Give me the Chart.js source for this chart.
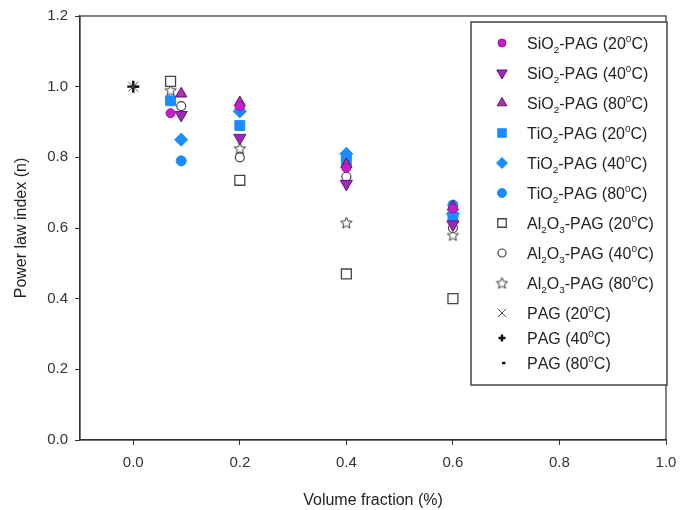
<!DOCTYPE html>
<html>
<head>
<meta charset="utf-8">
<script src="https://cdn.jsdelivr.net/npm/chart.js@4.4.0/dist/chart.umd.min.js"></script>
<style>
  html, body { margin: 0; padding: 0; background: #fff; }
  #caixa { width: 692px; height: 510px; }
</style>
</head>
<body>
<div id="caixa"><canvas id="grafico"></canvas></div>
<script>
// rótulos da legenda (_x = subscrito, ^x = sobrescrito)
const rotulos = [
  'SiO_2-PAG (20^0C)', 'SiO_2-PAG (40^0C)', 'SiO_2-PAG (80^0C)',
  'TiO_2-PAG (20^0C)', 'TiO_2-PAG (40^0C)', 'TiO_2-PAG (80^0C)',
  'Al_2O_3-PAG (20^0C)', 'Al_2O_3-PAG (40^0C)', 'Al_2O_3-PAG (80^0C)',
  'PAG (20^0C)', 'PAG (40^0C)', 'PAG (80^0C)'
];

// fração volumétrica (%) e índice n para cada série
const xSiO2_20 = [0.07, 0.2, 0.4, 0.6];
const nSiO2_20 = [0.925, 0.945, 0.77, 0.655];
const xSiO2_40 = [0.09, 0.2, 0.4, 0.6];
const nSiO2_40 = [0.92, 0.855, 0.725, 0.61];
const xSiO2_80 = [0.09, 0.2, 0.4, 0.6];
const nSiO2_80 = [0.98, 0.955, 0.78, 0.66];
const xTiO2_20 = [0.07, 0.2, 0.4, 0.6];
const nTiO2_20 = [0.96, 0.89, 0.79, 0.63];
const xTiO2_40 = [0.09, 0.2, 0.4, 0.6];
const nTiO2_40 = [0.85, 0.93, 0.81, 0.64];
const xTiO2_80 = [0.09, 0.2, 0.4, 0.6];
const nTiO2_80 = [0.79, 0.935, 0.80, 0.665];
const xAl2O3_20 = [0.07, 0.2, 0.4, 0.6];
const nAl2O3_20 = [1.015, 0.735, 0.47, 0.40];
const xAl2O3_40 = [0.09, 0.2, 0.4, 0.6];
const nAl2O3_40 = [0.945, 0.80, 0.745, 0.60];
const xAl2O3_80 = [0.07, 0.2, 0.4, 0.6];
const nAl2O3_80 = [0.99, 0.825, 0.615, 0.58];
const xPAG = [0];
const nPAG20 = [1.0];
const nPAG40 = [1.0];
const nPAG80 = [1.0];

const ticksX = [0, 0.2, 0.4, 0.6, 0.8, 1.0];

const FONTE = '"Liberation Sans", Arial, sans-serif';

function pontos(xs, ns) {
  return xs.map((x, i) => ({ x, y: ns[i] }));
}

// estrela de 5 pontas vazada (Chart.js não tem)
function criarEstrela(r, cor) {
  const c = document.createElement('canvas');
  const s = Math.ceil(r * 2 + 3);
  c.width = s;
  c.height = s;
  const g = c.getContext('2d');
  g.beginPath();
  for (let i = 0; i < 10; i++) {
    const ang = -Math.PI / 2 + i * Math.PI / 5;
    const rr = i % 2 === 0 ? r : r * 0.45;
    g.lineTo(s / 2 + rr * Math.cos(ang), s / 2 + rr * Math.sin(ang) + 0.5);
  }
  g.closePath();
  g.fillStyle = '#fff';
  g.fill();
  g.strokeStyle = cor;
  g.lineWidth = 1;
  g.stroke();
  return c;
}

const estrela = criarEstrela(6, '#333');

// leg = raio do marcador na legenda
const series = [
  { data: pontos(xSiO2_20, nSiO2_20), pointStyle: 'circle', radius: 4.5, leg: 4, bg: '#c81ec8', bd: '#a010a0', bw: 1 },
  { data: pontos(xSiO2_40, nSiO2_40), pointStyle: 'triangle', rotation: 180, radius: 7, leg: 6, bg: '#9a2cb8', bd: '#6a1080', bw: 1 },
  { data: pontos(xSiO2_80, nSiO2_80), pointStyle: 'triangle', radius: 6.5, leg: 5.5, bg: '#b432b4', bd: '#5a105a', bw: 1 },
  { data: pontos(xTiO2_20, nTiO2_20), pointStyle: 'rect', radius: 7, leg: 6, bg: '#1a8cff', bd: '#1a8cff', bw: 1 },
  { data: pontos(xTiO2_40, nTiO2_40), pointStyle: 'rectRot', radius: 6.5, leg: 5.5, bg: '#1a8cff', bd: '#1a8cff', bw: 1 },
  { data: pontos(xTiO2_80, nTiO2_80), pointStyle: 'circle', radius: 5, leg: 4.5, bg: '#1a8cff', bd: '#1a8cff', bw: 1 },
  { data: pontos(xAl2O3_20, nAl2O3_20), pointStyle: 'rect', radius: 7, leg: 6, bg: '#fff', bd: '#444', bw: 1.3 },
  { data: pontos(xAl2O3_40, nAl2O3_40), pointStyle: 'circle', radius: 4.5, leg: 4, bg: '#fff', bd: '#444', bw: 1.2 },
  { data: pontos(xAl2O3_80, nAl2O3_80), pointStyle: estrela, radius: 6, leg: 6, bg: '#fff', bd: '#333', bw: 1 },
  { data: pontos(xPAG, nPAG20), pointStyle: 'crossRot', radius: 7, leg: 6, bg: '#555', bd: '#555', bw: 1 },
  { data: pontos(xPAG, nPAG40), pointStyle: 'cross', radius: 6, leg: 3.5, bg: '#111', bd: '#111', bw: 2.4 },
  { data: pontos(xPAG, nPAG80), pointStyle: 'dash', radius: 5.5, leg: 3.5, bg: '#111', bd: '#111', bw: 2.4 }
];

// moldura superior/direita e legenda dentro da área do gráfico
const moldura = {
  id: 'moldura',
  afterDraw(chart) {
    const { ctx, chartArea: a } = chart;
    ctx.save();
    ctx.strokeStyle = '#333';
    ctx.lineWidth = 1.2;
    ctx.strokeRect(a.left, a.top, a.right - a.left, a.bottom - a.top);

    // legenda
    const bx = a.right - 195, by = a.top + 6, bw = 196, bh = 363;
    ctx.fillStyle = '#fff';
    ctx.fillRect(bx, by, bw, bh);
    ctx.strokeStyle = '#444';
    ctx.lineWidth = 1.5;
    ctx.strokeRect(bx, by, bw, bh);

    let yLinha = by + 21;
    chart.data.datasets.forEach((ds, i) => {
      const texto = rotulos[i];
      ctx.fillStyle = ds.backgroundColor;
      ctx.strokeStyle = ds.borderColor;
      ctx.lineWidth = ds.borderWidth;
      Chart.helpers.drawPoint(ctx, {
        pointStyle: ds.pointStyle,
        rotation: ds.pointRotation || 0,
        radius: series[i].leg,
        borderWidth: ds.borderWidth
      }, bx + 31, yLinha);
      desenharRotulo(ctx, texto, bx + 56, yLinha + 5.5, 16);
      yLinha += texto.indexOf('_') >= 0 ? 30 : 25;
    });
    ctx.restore();
  }
};

function desenharRotulo(ctx, texto, x, y, tam) {
  ctx.fillStyle = '#222';
  ctx.textBaseline = 'alphabetic';
  ctx.textAlign = 'left';
  let cx = x;
  for (let i = 0; i < texto.length; i++) {
    let ch = texto[i];
    let dy = 0, t = tam;
    if (ch === '_') { ch = texto[++i]; t = tam * 0.62; dy = tam * 0.3; }
    else if (ch === '^') { ch = texto[++i]; t = tam * 0.62; dy = -tam * 0.42; }
    ctx.font = `${t}px ${FONTE}`;
    ctx.fillText(ch, cx, y + dy);
    cx += ctx.measureText(ch).width;
  }
}

const ctx = document.getElementById('grafico').getContext('2d');
new Chart(ctx, {
  type: 'scatter',
  data: {
    datasets: series.map((s, i) => ({
      label: rotulos[i],
      data: s.data,
      pointStyle: s.pointStyle,
      pointRotation: s.rotation || 0,
      pointRadius: s.radius,
      pointHoverRadius: s.radius,
      backgroundColor: s.bg,
      borderColor: s.bd,
      borderWidth: s.bw,
      showLine: false
    }))
  },
  options: {
    responsive: true,
    maintainAspectRatio: false,
    animation: false,
    events: [],
    layout: { padding: { left: 0, top: 16, right: 26, bottom: 0 } },
    plugins: {
      legend: { display: false },
      tooltip: { enabled: false }
    },
    scales: {
      x: {
        type: 'linear',
        min: -0.1,
        max: 1.0,
        afterFit(scale) { scale.height = 70; },
        afterBuildTicks(scale) { scale.ticks = ticksX.map(v => ({ value: v })); },
        grid: { drawOnChartArea: false, drawTicks: true, tickLength: 5, tickColor: '#333', tickWidth: 1 },
        border: { display: true, color: '#333', width: 1.2 },
        ticks: {
          color: '#333',
          padding: 9,
          maxRotation: 0,
          font: { family: FONTE, size: 15 },
          callback: v => v.toFixed(1)
        },
        title: {
          display: true,
          text: 'Volume fraction (%)',
          color: '#222',
          font: { family: FONTE, size: 16 },
          padding: { top: 5, bottom: 0 }
        }
      },
      y: {
        type: 'linear',
        min: 0,
        max: 1.2,
        afterFit(scale) { scale.width = 80; },
        grid: { drawOnChartArea: false, drawTicks: true, tickLength: 5, tickColor: '#333', tickWidth: 1 },
        border: { display: true, color: '#333', width: 1.2 },
        ticks: {
          color: '#333',
          padding: 7,
          stepSize: 0.2,
          font: { family: FONTE, size: 15 },
          callback: v => v.toFixed(1)
        },
        title: {
          display: true,
          text: 'Power law index (n)',
          color: '#222',
          font: { family: FONTE, size: 16 },
          padding: { top: 12, bottom: 0 }
        }
      }
    }
  },
  plugins: [moldura]
});
</script>
</body>
</html>
